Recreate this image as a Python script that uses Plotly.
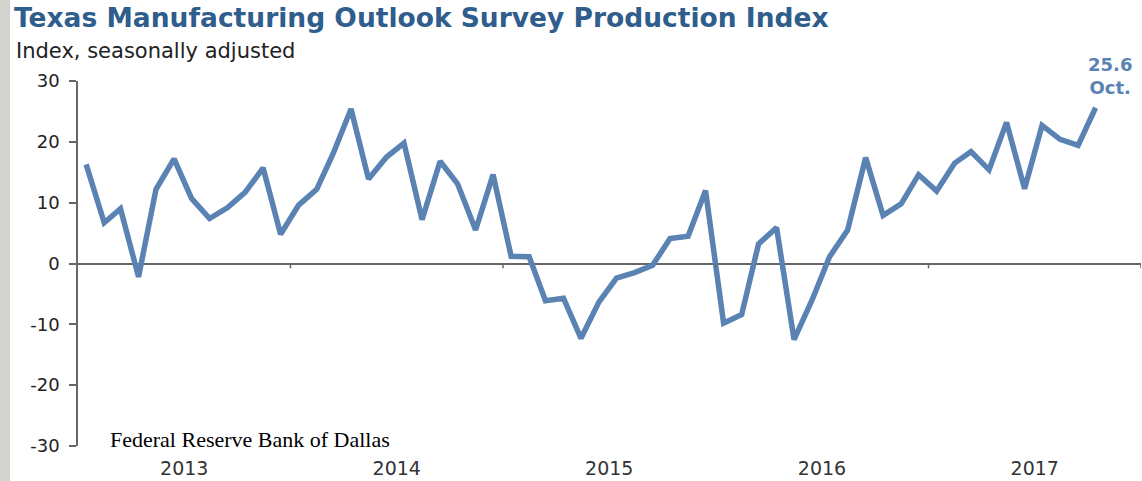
import plotly.graph_objects as go
import pandas as pd

# Monthly production index, Jan 2013 - Oct 2017
idx_2013 = [16.3, 6.7, 9.0, -2.2, 12.2, 17.2, 10.7, 7.4, 9.2, 11.7, 15.7, 4.8]
idx_2014 = [9.6, 12.2, 18.0, 25.4, 13.9, 17.5, 19.8, 7.2, 16.8, 13.1, 5.5, 14.6]
idx_2015 = [1.2, 1.1, -6.1, -5.7, -12.3, -6.3, -2.4, -1.5, -0.3, 4.1, 4.5, 12.0]
idx_2016 = [-9.8, -8.4, 3.2, 5.9, -12.5, -6.0, 1.1, 5.5, 17.4, 7.9, 9.8, 14.6]
idx_2017 = [11.9, 16.5, 18.4, 15.4, 23.2, 12.3, 22.7, 20.4, 19.4, 25.6]

values = idx_2013 + idx_2014 + idx_2015 + idx_2016 + idx_2017
months = pd.date_range("2013-01-01", periods=len(values), freq="MS") + pd.Timedelta(days=14)
year_starts = ["2014-01-01", "2015-01-01", "2016-01-01", "2017-01-01", "2018-01-01"]
y_ticks = [30, 20, 10, 0, -10, -20, -30]

W, H = 1142, 481
L, R, T, B = 78, 1, 81, 35
pw, ph = W - L - R, H - T - B

def px(x):
    return (x - L) / pw

def py(y):
    return (H - B - y) / ph

line_col = "#5a83b3"
axis_col = "#666666"

fig = go.Figure()

fig.add_trace(go.Scatter(
    x=months, y=values, mode="lines",
    line=dict(color=line_col, width=5.5),
    showlegend=False, hoverinfo="x+y"
))

# latest value label
fig.add_annotation(
    x=months[-1], y=values[-1], xref="x", yref="y",
    text=f"<b>{values[-1]}<br>Oct.</b>", showarrow=False,
    xshift=14, yshift=32,
    font=dict(family="DejaVu Sans", size=18, color=line_col),
    align="center"
)

# small ticks on the zero line at year boundaries
for ys in year_starts:
    fig.add_shape(type="line", xref="x", yref="y", x0=ys, x1=ys, y0=0, y1=-0.8,
                  line=dict(color=axis_col, width=1.5))

# grey photo strip on the left edge
fig.add_shape(type="rect", xref="paper", yref="paper",
              x0=px(0), x1=px(10), y0=py(H), y1=py(0),
              fillcolor="#d2d2ce", line=dict(width=0), layer="below")

fig.add_annotation(
    xref="paper", yref="paper", x=px(12), y=py(17),
    xanchor="left", yanchor="middle", showarrow=False,
    text="<b>Texas Manufacturing Outlook Survey Production Index</b>",
    font=dict(family="DejaVu Sans", size=26.5, color="#2f5d8c")
)
fig.add_annotation(
    xref="paper", yref="paper", x=px(14), y=py(51),
    xanchor="left", yanchor="middle", showarrow=False,
    text="Index, seasonally adjusted",
    font=dict(family="DejaVu Sans", size=21, color="#222222")
)
fig.add_annotation(
    xref="paper", yref="paper", x=px(108), y=py(439),
    xanchor="left", yanchor="middle", showarrow=False,
    text="Federal Reserve Bank of Dallas",
    font=dict(family="Liberation Serif", size=22, color="#000000")
)

fig.update_layout(
    width=W, height=H,
    margin=dict(l=L, r=R, t=T, b=B),
    paper_bgcolor="white", plot_bgcolor="white",
    xaxis=dict(
        type="date", range=["2013-01-01", "2018-01-01"],
        tick0="2013-01-01", dtick="M12", tickformat="%Y",
        ticklabelmode="period", ticks="", showgrid=False,
        showline=False, zeroline=False, ticklabelstandoff=9,
        automargin=False,
        tickfont=dict(family="DejaVu Sans", size=19, color="#333333")
    ),
    yaxis=dict(
        range=[-30, 30], tickvals=y_ticks, ticktext=[str(v) for v in y_ticks],
        ticks="outside", ticklen=7,
        tickcolor=axis_col, tickwidth=1.5,
        showline=True, linecolor=axis_col, linewidth=1.5,
        showgrid=False, zeroline=True, zerolinecolor=axis_col, zerolinewidth=1.5,
        ticklabelstandoff=6, automargin=False,
        tickfont=dict(family="DejaVu Sans", size=18, color="#222222")
    )
)

fig.write_html("out.html", config={"displayModeBar": False},
               post_script="document.body.style.margin='0';")
